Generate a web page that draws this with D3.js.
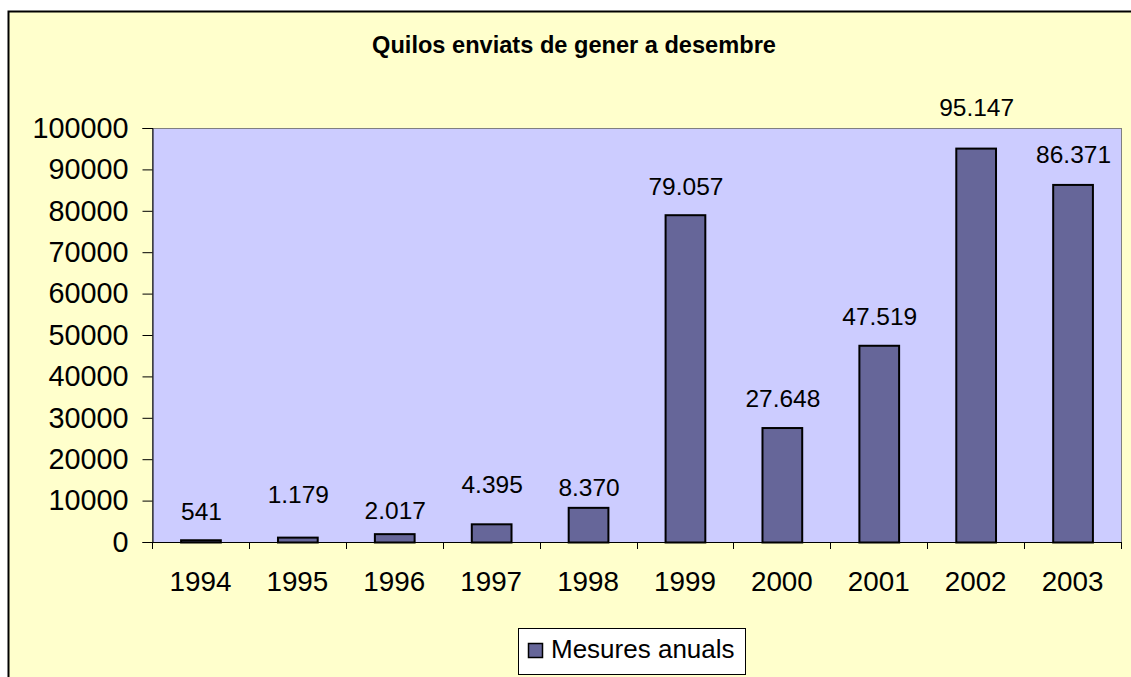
<!DOCTYPE html>
<html>
<head>
<meta charset="utf-8">
<script src="https://cdn.jsdelivr.net/npm/d3@7"></script>
<style>
  html, body { margin: 0; padding: 0; background: #fff; overflow: hidden; }
  text { font-family: "Liberation Sans", Arial, sans-serif; fill: #000; }
</style>
</head>
<body>
<script>
// chart data
const years = ['1994', '1995', '1996', '1997', '1998', '1999', '2000', '2001', '2002', '2003'];
const kilos = [541, 1179, 2017, 4395, 8370, 79057, 27648, 47519, 95147, 86371];
const valueLabels = ['541', '1.179', '2.017', '4.395', '8.370', '79.057', '27.648', '47.519', '95.147', '86.371'];
const yTicks = [0, 10000, 20000, 30000, 40000, 50000, 60000, 70000, 80000, 90000, 100000];
// label lift above each bar (the labels were moved by hand in the original)
const labelLift = [20, 34, 15, 31, 11, 20, 21, 20, 32, 21];

window.onload = function() {
  const W = 1131, H = 677;
  const svg = d3.select('body').append('svg')
    .attr('width', W)
    .attr('height', H);

  // chart background
  svg.append('rect')
    .attr('x', 8.5).attr('y', 11.5)
    .attr('width', 1140).attr('height', 700)
    .attr('fill', '#FFFFCC')
    .attr('stroke', '#000')
    .attr('stroke-width', 2);

  const left = 152, right = 1121, top = 128, bottom = 542;

  svg.append('text')
    .attr('x', 574).attr('y', 53)
    .attr('text-anchor', 'middle')
    .style('font-size', '23.6px')
    .style('font-weight', 'bold')
    .text('Quilos enviats de gener a desembre');

  const x = d3.scaleBand()
    .domain(years)
    .range([left, right])
    .paddingInner(0.59)
    .paddingOuter(0.295);
  const xCat = d3.scaleBand().domain(years).range([left, right]).padding(0);

  const y = d3.scaleLinear()
    .domain([0, 100000])
    .range([bottom, top]);

  // plot area
  svg.append('rect')
    .attr('x', left + 0.5).attr('y', top + 0.5)
    .attr('width', right - left).attr('height', bottom - top)
    .attr('fill', '#CCCCFF')
    .attr('stroke', '#808080')
    .attr('stroke-width', 1);

  // bars
  svg.selectAll('.bar')
    .data(kilos)
    .join('rect')
    .attr('class', 'bar')
    .attr('x', (d, i) => x(years[i]) + 0.5)
    .attr('y', d => y(d) + 0.5)
    .attr('width', x.bandwidth())
    .attr('height', d => bottom - y(d))
    .attr('fill', '#666699')
    .attr('stroke', '#000')
    .attr('stroke-width', 2);

  // value labels
  svg.selectAll('.vlabel')
    .data(kilos)
    .join('text')
    .attr('class', 'vlabel')
    .attr('x', (d, i) => x(years[i]) + x.bandwidth() / 2 + 1)
    .attr('y', (d, i) => y(d) - labelLift[i])
    .attr('text-anchor', 'middle')
    .style('font-size', '24.5px')
    .text((d, i) => valueLabels[i]);

  // y axis
  const yAxis = svg.append('g')
    .attr('transform', `translate(${left + 0.5},0)`)
    .call(d3.axisLeft(y).tickValues(yTicks).tickSize(10).tickPadding(14).tickFormat(d3.format('d')));
  yAxis.select('.domain').attr('stroke', '#000');
  yAxis.selectAll('.tick line').attr('stroke', '#000');
  yAxis.selectAll('.tick text')
    .style('font-size', '28.8px')
    .style('font-family', '"Liberation Sans", Arial, sans-serif');

  // x axis line and ticks at category boundaries
  svg.append('line')
    .attr('x1', left).attr('x2', right + 1)
    .attr('y1', bottom + 0.5).attr('y2', bottom + 0.5)
    .attr('stroke', '#000');
  const bounds = years.map(c => xCat(c)).concat([right]);
  svg.selectAll('.xtick')
    .data(bounds)
    .join('line')
    .attr('class', 'xtick')
    .attr('x1', d => Math.round(d) + 0.5).attr('x2', d => Math.round(d) + 0.5)
    .attr('y1', bottom).attr('y2', bottom + 7)
    .attr('stroke', '#000');

  svg.selectAll('.xlabel')
    .data(years)
    .join('text')
    .attr('class', 'xlabel')
    .attr('x', d => xCat(d) + xCat.bandwidth() / 2)
    .attr('y', 591)
    .attr('text-anchor', 'middle')
    .style('font-size', '27.8px')
    .text(d => d);

  // legend
  const lg = svg.append('g');
  lg.append('rect')
    .attr('x', 518.5).attr('y', 628.5)
    .attr('width', 227).attr('height', 46)
    .attr('fill', '#fff')
    .attr('stroke', '#000')
    .attr('stroke-width', 1);
  lg.append('rect')
    .attr('x', 528.5).attr('y', 643.5)
    .attr('width', 14).attr('height', 14)
    .attr('fill', '#666699')
    .attr('stroke', '#000')
    .attr('stroke-width', 1.5);
  lg.append('text')
    .attr('x', 551).attr('y', 658)
    .style('font-size', '26px')
    .text('Mesures anuals');
};
</script>
</body>
</html>
